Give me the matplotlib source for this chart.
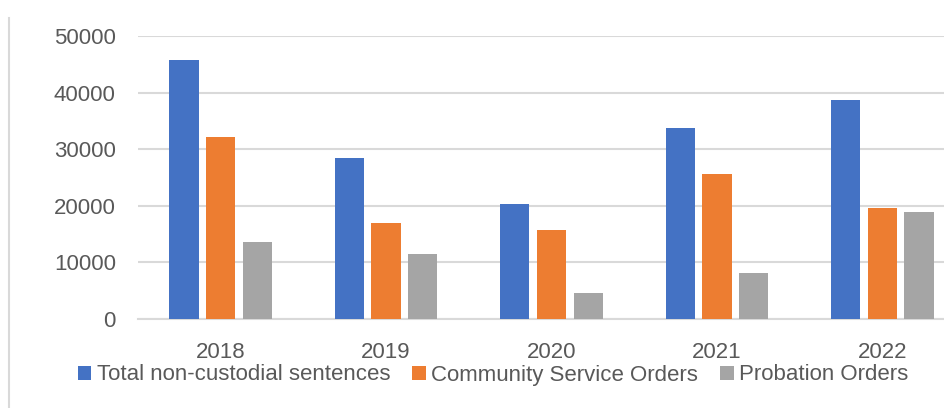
import numpy as np
import matplotlib.pyplot as plt
from matplotlib.lines import Line2D

years = ['2018', '2019', '2020', '2021', '2022']
series_names = ['Total non-custodial sentences', 'Community Service Orders', 'Probation Orders']
total = [45800, 28500, 20350, 33700, 38750]
community = [32100, 16950, 15600, 25550, 19650]
probation = [13500, 11450, 4600, 8050, 18950]
colors = ['#4472C4', '#ED7D31', '#A5A5A5']

plt.rcParams['font.family'] = ['Liberation Sans', 'DejaVu Sans']
text_color = '#595959'
grid_color = '#D9D9D9'

fig = plt.figure(figsize=(9.45, 4.08), dpi=100)
ax = fig.add_axes([138 / 945, 89.3 / 408, 827 / 945, 282.7 / 408])

x = np.arange(len(years))
width = 0.177
offset = 0.222
for i, (vals, name) in enumerate(zip([total, community, probation], series_names)):
    ax.bar(x + (i - 1) * offset, vals, width, color=colors[i], label=name, zorder=3)

ax.set_xlim(-0.5, len(years) - 0.5)
ax.set_ylim(0, 50000)
ax.set_yticks(np.arange(0, 50001, 10000))
ax.set_xticks(x)
ax.set_xticklabels(years)
ax.yaxis.grid(True, color=grid_color, linewidth=1.5, zorder=0)
ax.tick_params(axis='both', length=0, labelsize=16, labelcolor=text_color)
ax.tick_params(axis='y', pad=16)
ax.tick_params(axis='x', pad=17)
for side in ['top', 'right', 'left']:
    ax.spines[side].set_visible(False)
ax.spines['bottom'].set_color(grid_color)
ax.spines['bottom'].set_linewidth(1.5)

fig.legend(loc='center', bbox_to_anchor=(493 / 945, 1 - 375 / 408), ncol=3,
           frameon=False, fontsize=16, labelcolor=text_color,
           handlelength=0.6, handleheight=0.6, handletextpad=0.25,
           columnspacing=1.0, borderpad=0, borderaxespad=0)

# chart border on the left
fig.add_artist(Line2D([9 / 945, 9 / 945], [0, 1 - 18 / 408],
                      transform=fig.transFigure, color=grid_color, linewidth=1.5))

plt.savefig('out.png', dpi=100)
